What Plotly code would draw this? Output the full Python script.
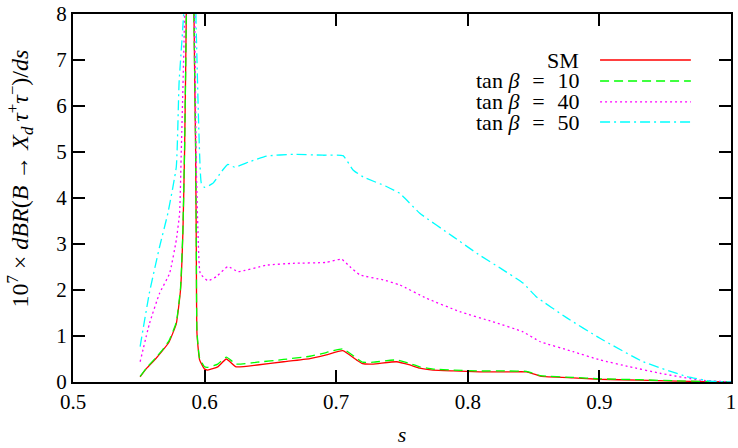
import plotly.graph_objects as go

# ---------------- data ----------------
sm_s = [0.551, 0.556, 0.563, 0.568, 0.573, 0.5785, 0.5817, 0.5835, 0.5848, 0.5862, 0.5890, 0.5918,
        0.5932, 0.5937, 0.5942, 0.5962, 0.600, 0.6025, 0.610, 0.6165, 0.624, 0.640, 0.660, 0.680,
        0.6925, 0.705, 0.7154, 0.720, 0.728, 0.7458, 0.756, 0.7635, 0.7736, 0.789, 0.809, 0.830,
        0.8446, 0.855, 0.880, 0.900, 0.930, 0.9587, 0.980, 1.0]
sm_v = [0.11, 0.30, 0.51, 0.68, 0.87, 1.27, 2.0, 3.24, 5.04, 8.3, 40, 8.3,
        5.0, 2.87, 1.06, 0.48, 0.28, 0.26, 0.33, 0.50, 0.33, 0.37, 0.44, 0.51,
        0.59, 0.68, 0.48, 0.40, 0.39, 0.44, 0.37, 0.30, 0.26, 0.24, 0.22, 0.22,
        0.22, 0.13, 0.09, 0.06, 0.04, 0.02, 0.01, 0.0]
t10_v = [0.12, 0.31, 0.53, 0.70, 0.90, 1.30, 2.05, 3.3, 5.1, 8.3, 40, 8.3,
         5.05, 2.9, 1.10, 0.52, 0.33, 0.32, 0.39, 0.54, 0.39, 0.43, 0.49, 0.56,
         0.64, 0.72, 0.52, 0.43, 0.43, 0.48, 0.40, 0.33, 0.28, 0.26, 0.24, 0.24,
         0.23, 0.14, 0.10, 0.07, 0.05, 0.025, 0.012, 0.0]

t40_s = [0.551, 0.5582, 0.5658, 0.5734, 0.5785, 0.581, 0.5823, 0.5850, 0.589, 0.5924, 0.5937, 0.595,
         0.5967, 0.6025, 0.6089, 0.6177, 0.6253, 0.647, 0.6672, 0.6925, 0.704, 0.7103, 0.7179, 0.7356,
         0.7483, 0.7686, 0.7939, 0.819, 0.842, 0.8548, 0.880, 0.9004, 0.9232, 0.946, 0.9764, 1.0]
t40_v = [0.44, 1.28, 1.93, 2.36, 3.09, 3.67, 5.04, 8.3, 45, 8.3, 4.68, 3.23,
         2.36, 2.20, 2.29, 2.51, 2.40, 2.54, 2.58, 2.60, 2.67, 2.51, 2.33, 2.22,
         2.11, 1.82, 1.53, 1.31, 1.09, 0.88, 0.66, 0.48, 0.33, 0.19, 0.04, 0.0]

t50_s = [0.551, 0.558, 0.5658, 0.5721, 0.5785, 0.5806, 0.5846, 0.589, 0.5932, 0.5937, 0.5957, 0.5975,
         0.600, 0.6063, 0.6127, 0.6177, 0.6228, 0.6342, 0.647, 0.6672, 0.69, 0.7052, 0.7128, 0.7204,
         0.7382, 0.7483, 0.7635, 0.7888, 0.8078, 0.825, 0.842, 0.8522, 0.875, 0.9004, 0.9333, 0.9663,
         0.984, 1.0]
t50_v = [0.77, 1.93, 2.94, 3.67, 4.68, 6.5, 8.3, 50, 8.3, 7.58, 5.4, 4.32,
         4.23, 4.32, 4.57, 4.73, 4.67, 4.79, 4.91, 4.95, 4.93, 4.92, 4.61, 4.46,
         4.25, 4.10, 3.67, 3.16, 2.78, 2.47, 2.15, 1.85, 1.40, 0.95, 0.44, 0.12,
         0.02, 0.0]

EQ = "\u2002\u200a=\u2002\u200a"
series_names = ["SM", "tan\u2005<i>β</i>" + EQ + "10", "tan\u2005<i>β</i>" + EQ + "40",
                "tan\u2005<i>β</i>" + EQ + "50"]
x_ticks = [0.5, 0.6, 0.7, 0.8, 0.9, 1.0]
x_tick_labels = ["0.5", "0.6", "0.7", "0.8", "0.9", "1"]
y_ticks = [0, 1, 2, 3, 4, 5, 6, 7, 8]

# ---------------- styles ----------------
colors = ["#ff0000", "#00ff00", "#ff00ff", "#00ffff"]
dashes = ["solid", "9px,5px", "2px,3px", "10px,4px,2px,4px"]
FONT = "Liberation Serif"

fig = go.Figure()
data = [(sm_s, sm_v), (sm_s, t10_v), (t40_s, t40_v), (t50_s, t50_v)]
for (xs, ys), name, c, d in zip(data, series_names, colors, dashes):
    fig.add_trace(go.Scatter(x=xs, y=ys, mode="lines", name=name, showlegend=False,
                             line=dict(color=c, width=1.3, dash=d, shape="spline", smoothing=0.4)))

# manual gnuplot-style legend (text left, sample right)
leg_y = [0.875, 0.818, 0.761, 0.7065]
for name, c, d, yy in zip(series_names, colors, dashes, leg_y):
    fig.add_annotation(x=0.772, y=yy, xref="paper", yref="paper", text=name,
                       showarrow=False, xanchor="right", yanchor="middle",
                       font=dict(family=FONT, size=22, color="black"))
    fig.add_shape(type="line", xref="paper", yref="paper", x0=0.801, x1=0.939, y0=yy, y1=yy,
                  line=dict(color=c, width=1.3, dash=d))

# y-axis title as annotation
fig.add_annotation(x=-0.081, y=0.552, xref="paper", yref="paper",
                   text="10<sup>7</sup> × <i>dBR</i>(<i>B</i> → <i>X</i><sub><i>d</i></sub>\u2009<i>τ</i><sup>+</sup><i>τ</i><sup>−</sup>)/<i>ds</i>",
                   textangle=-90, showarrow=False, xanchor="center", yanchor="middle",
                   font=dict(family=FONT, size=24, color="black"))

axis_common = dict(showline=True, linecolor="black", linewidth=2, mirror="ticks",
                   ticks="inside", ticklen=12, tickwidth=1.5, tickcolor="black",
                   showgrid=False, zeroline=False, automargin=False,
                   ticklabeloverflow="allow",
                   tickfont=dict(family=FONT, size=21, color="black"))

fig.update_xaxes(range=[0.5, 1.0], tickvals=x_ticks, ticktext=x_tick_labels,
                 title=dict(text="<i>s</i>", font=dict(family=FONT, size=22, color="black"), standoff=13),
                 **axis_common)
fig.update_yaxes(range=[0, 8], tickvals=y_ticks, **axis_common)

fig.update_layout(width=738, height=448, margin=dict(l=73, r=7, t=14, b=66),
                  plot_bgcolor="white", paper_bgcolor="white")

fig.write_html("out.html", config={"displayModeBar": False},
               post_script="document.body.style.margin='0';document.body.style.padding='0';")
